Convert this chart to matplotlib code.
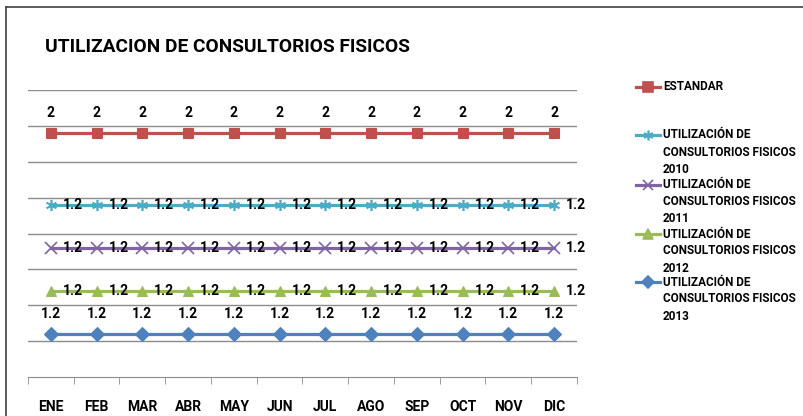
import numpy as np
import matplotlib.pyplot as plt
from matplotlib.lines import Line2D

plt.rcParams['font.family'] = ['Roboto', 'DejaVu Sans']
plt.rcParams['font.weight'] = 'bold'

meses = ['ENE', 'FEB', 'MAR', 'ABR', 'MAY', 'JUN', 'JUL', 'AGO', 'SEP', 'OCT', 'NOV', 'DIC']
# series in stacking order (bottom first), Excel stacked line chart
u2013 = [1.2] * 12
u2012 = [1.2] * 12
u2011 = [1.2] * 12
u2010 = [1.2] * 12
estandar = [2] * 12

series = [
    ('UTILIZACIÓN DE\nCONSULTORIOS FISICOS\n2013', u2013, '#4F81BD', 'D'),
    ('UTILIZACIÓN DE\nCONSULTORIOS FISICOS\n2012', u2012, '#9BBB59', '^'),
    ('UTILIZACIÓN DE\nCONSULTORIOS FISICOS\n2011', u2011, '#8064A2', 'x'),
    ('UTILIZACIÓN DE\nCONSULTORIOS FISICOS\n2010', u2010, '#4BACC6', (6, 2, 0)),
    ('ESTANDAR', estandar, '#C0504D', 's'),
]

fig = plt.figure(figsize=(8.04, 4.16), dpi=100)
ax = fig.add_axes([28 / 804, 1 - 377 / 416, (577 - 28) / 804, (377 - 90) / 416])

x = np.arange(len(meses))
base = np.zeros(len(meses))
for i, (name, vals, col, mk) in enumerate(series):
    top = base + np.array(vals, dtype=float)
    filled = mk in ('s', 'D', '^')
    ms = 7 if filled else 8
    mew = 0.8 if filled else 1.2
    ax.plot(x, top, color=col, lw=2.3, marker=mk, ms=ms, mec=col, mew=mew,
            mfc=col, zorder=3)
    for xi, yi, v in zip(x, top, vals):
        lab = '%g' % v
        if i == 0 or i == len(series) - 1:
            ax.annotate(lab, (xi, yi), xytext=(0, 14.5), textcoords='offset points',
                        ha='center', va='center', fontsize=10, fontweight='bold',
                        zorder=4)
        else:
            ax.annotate(lab, (xi, yi), xytext=(8.5, 0), textcoords='offset points',
                        ha='left', va='center', fontsize=10, fontweight='bold',
                        zorder=4)
    base = top

ax.set_xlim(-0.5, len(meses) - 0.5)
ax.set_ylim(0, 8)
ax.set_yticks(np.arange(1, 9))
ax.yaxis.grid(True, color='#8c8c8c', lw=1)
ax.tick_params(axis='y', left=False, labelleft=False)
for s in ['top', 'right', 'left']:
    ax.spines[s].set_visible(False)
ax.spines['bottom'].set_color('#8c8c8c')
ax.set_xticks(x)
ax.set_xticklabels(meses, fontsize=10, fontweight='bold')
ax.set_xticks(np.arange(-0.5, len(meses)), minor=True)
ax.tick_params(axis='x', which='major', length=0, pad=16.5)
ax.tick_params(axis='x', which='minor', length=5, color='#8c8c8c', direction='out')
ax.set_axisbelow(True)

fig.text(45 / 804, 1 - 47 / 416, 'UTILIZACION DE CONSULTORIOS FISICOS',
         fontsize=13.8, fontweight='bold', ha='left', va='center')

# legend drawn by hand to keep Excel-like spacing
leg_y = [282, 234, 185, 135, 87]
for (name, vals, col, mk), py in zip(series, leg_y):
    yf = 1 - py / 416
    filled = mk in ('s', 'D', '^')
    ms = 6.5 if filled else 7
    fig.add_artist(Line2D([636 / 804, 660 / 804], [yf, yf], color=col, lw=2.3,
                          transform=fig.transFigure))
    fig.add_artist(Line2D([648 / 804], [yf], color=col, marker=mk, ms=ms, mfc=col,
                          mec=col, mew=1.2, transform=fig.transFigure))
    for k, line in enumerate(name.split('\n')):
        fig.text(663 / 804, yf - k * 17 / 416, line, fontsize=8.5,
                 fontweight='bold', ha='left', va='center')

# chart border (cropped on right and bottom)
fig.add_artist(Line2D([6 / 804, 6 / 804], [0, 1 - 7 / 416], color='#404040', lw=1.2,
                      transform=fig.transFigure))
fig.add_artist(Line2D([6 / 804, 1], [1 - 7 / 416, 1 - 7 / 416], color='#404040', lw=1.2,
                      transform=fig.transFigure))

fig.savefig('out.png', dpi=100)
